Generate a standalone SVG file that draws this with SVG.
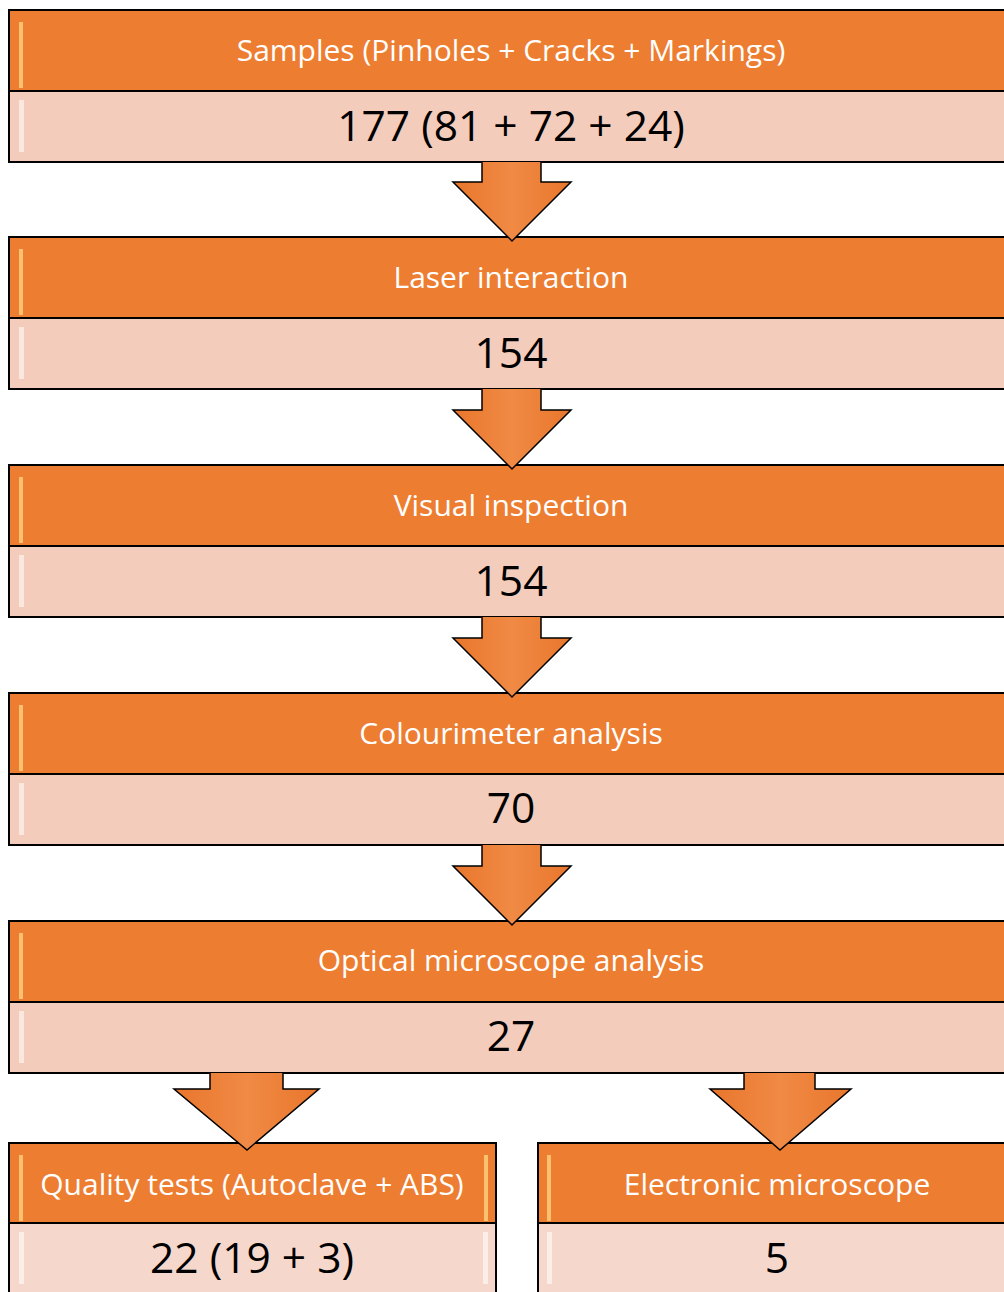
<svg xmlns="http://www.w3.org/2000/svg" width="1004" height="1292" viewBox="0 0 1004 1292">
<defs>
<style>
.hd{fill:#ED7D31;stroke:#000;stroke-width:2}
.bd{fill:#F4CCBB;stroke:#000;stroke-width:2}
.bd2{fill:#F6D7CB;stroke:#000;stroke-width:2}
.ht{font-family:"Open Sans","Noto Sans",sans-serif;font-size:30px;fill:#fff;text-anchor:middle}
.bt{font-family:"Open Sans","Noto Sans",sans-serif;font-size:42.5px;fill:#000;text-anchor:middle}
.ar{fill:url(#ag);stroke:#000;stroke-width:1.5;stroke-linejoin:miter}
.hl{fill:#fff;opacity:0.55}
.hl2{fill:#FFE08A;opacity:0.7}
</style>
<linearGradient id="ag" x1="0" y1="0" x2="1" y2="0">
<stop offset="0" stop-color="#E9762C"/>
<stop offset="0.5" stop-color="#F08A45"/>
<stop offset="1" stop-color="#E9762C"/>
</linearGradient>
</defs>
<g id="n1">
<rect class="hd" x="9" y="10" width="1010" height="81"/>
<rect class="bd" x="9" y="91" width="1010" height="71"/>
<rect class="hl2" x="19" y="22" width="4" height="66"/>
<rect class="hl" x="19" y="100" width="5" height="52"/>
<text class="ht" x="511" y="61">Samples (Pinholes + Cracks + Markings)</text>
<text class="bt" x="511" y="141">177 (81 + 72 + 24)</text>
</g>
<g id="n2">
<rect class="hd" x="9" y="237" width="1010" height="81"/>
<rect class="bd" x="9" y="318" width="1010" height="71"/>
<rect class="hl2" x="19" y="249" width="4" height="66"/>
<rect class="hl" x="19" y="327" width="5" height="52"/>
<text class="ht" x="511" y="288">Laser interaction</text>
<text class="bt" x="511" y="368">154</text>
</g>
<g id="n3">
<rect class="hd" x="9" y="465" width="1010" height="81"/>
<rect class="bd" x="9" y="546" width="1010" height="71"/>
<rect class="hl2" x="19" y="477" width="4" height="66"/>
<rect class="hl" x="19" y="555" width="5" height="52"/>
<text class="ht" x="511" y="516">Visual inspection</text>
<text class="bt" x="511" y="596">154</text>
</g>
<g id="n4">
<rect class="hd" x="9" y="693" width="1010" height="81"/>
<rect class="bd" x="9" y="774" width="1010" height="71"/>
<rect class="hl2" x="19" y="705" width="4" height="66"/>
<rect class="hl" x="19" y="783" width="5" height="52"/>
<text class="ht" x="511" y="744">Colourimeter analysis</text>
<text class="bt" x="511" y="823">70</text>
</g>
<g id="n5">
<rect class="hd" x="9" y="921" width="1010" height="81"/>
<rect class="bd" x="9" y="1002" width="1010" height="71"/>
<rect class="hl2" x="19" y="933" width="4" height="66"/>
<rect class="hl" x="19" y="1011" width="5" height="52"/>
<text class="ht" x="511" y="971">Optical microscope analysis</text>
<text class="bt" x="511" y="1051">27</text>
</g>
<g id="n6">
<rect class="hd" x="9" y="1143" width="487" height="80"/>
<rect class="bd2" x="9" y="1223" width="487" height="80"/>
<rect class="hl2" x="19" y="1155" width="4" height="66"/>
<rect class="hl2" x="484" y="1155" width="4" height="66"/>
<rect class="hl" x="19" y="1232" width="5" height="52"/>
<rect class="hl" x="483" y="1232" width="5" height="52"/>
<text class="ht" x="252" y="1195">Quality tests (Autoclave + ABS)</text>
<text class="bt" x="252" y="1273">22 (19 + 3)</text>
</g>
<g id="n7">
<rect class="hd" x="538" y="1143" width="480" height="80"/>
<rect class="bd2" x="538" y="1223" width="480" height="80"/>
<rect class="hl2" x="547" y="1155" width="4" height="66"/>
<rect class="hl" x="547" y="1232" width="5" height="52"/>
<text class="ht" x="777" y="1195">Electronic microscope</text>
<text class="bt" x="777" y="1273">5</text>
</g>
<g id="connectors">
<path class="ar" d="M482,162 V182 H453 L512,241 L571,182 H541 V162"/>
<path class="ar" d="M482,389 V410 H453 L512,469 L571,410 H541 V389"/>
<path class="ar" d="M482,617 V638 H453 L512,697 L571,638 H541 V617"/>
<path class="ar" d="M482,845 V866 H453 L512,925 L571,866 H541 V845"/>
<path class="ar" d="M210,1073 V1089 H174 L247,1150 L319,1089 H283 V1073"/>
<path class="ar" d="M744,1073 V1089 H710 L780,1150 L851,1089 H815 V1073"/>
</g>
</svg>
